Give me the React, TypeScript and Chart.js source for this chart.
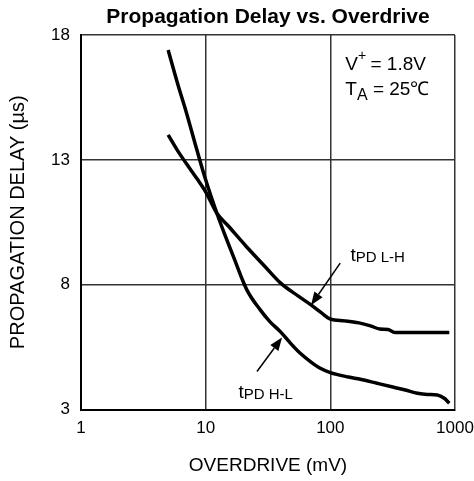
import React, { useEffect, useRef } from "react";
import { Chart, registerables } from "chart.js";

Chart.register(...registerables);

const TITLE = "Propagation Delay vs. Overdrive";
const X_TITLE = "OVERDRIVE (mV)";
const Y_TITLE = "PROPAGATION DELAY (µs)";
const X_TICKS = [1, 10, 100, 1000];
const Y_TICKS = [3, 8, 13, 18];

// tPD L-H
const LH_X = [5, 5.9, 7, 8.5, 10, 12.3, 15, 21, 30, 40, 55, 70, 85, 100, 130, 170, 210, 250, 290, 330, 500, 700, 900];
const LH_Y = [14.0, 13.4, 12.85, 12.25, 11.72, 10.86, 10.38, 9.55, 8.72, 8.06, 7.55, 7.19, 6.87, 6.62, 6.55, 6.47, 6.35, 6.22, 6.2, 6.08, 6.08, 6.08, 6.08];

// tPD H-L
const HL_X = [5, 6, 7, 8.5, 10, 12.3, 14.5, 16.7, 21.4, 27.4, 33, 39.7, 48, 57.4, 70, 83, 100, 140, 174, 237, 323, 400, 500, 600, 720, 820, 900];
const HL_Y = [17.4, 16.0, 14.9, 13.4, 12.2, 10.86, 9.9, 9.12, 7.79, 6.99, 6.5, 6.12, 5.65, 5.25, 4.9, 4.65, 4.48, 4.3, 4.21, 4.05, 3.89, 3.78, 3.65, 3.6, 3.58, 3.45, 3.25];

// annotation anchors in data units: [x, y]
const LH_LABEL = [145, 8.95];
const HL_LABEL = [18.3, 3.45];
const LH_ARROW = [[120, 8.86], [70, 7.18]];
const HL_ARROW = [[25.8, 4.52], [41, 5.88]];
const COND_POS = [132, 16.6];

const FONT = "'Liberation Sans', Arial, Helvetica, sans-serif";

const overlay = {
  id: "overlay",
  afterDraw(chart: any) {
    const { ctx, chartArea, scales } = chart;
    const xs = scales.x;
    const ys = scales.y;
    const px = (v: number) => xs.getPixelForValue(v);
    const py = (v: number) => ys.getPixelForValue(v);
    ctx.save();
    ctx.fillStyle = "#000";
    ctx.strokeStyle = "#000";

    // title
    ctx.font = `bold 21px ${FONT}`;
    ctx.textAlign = "center";
    ctx.textBaseline = "middle";
    ctx.fillText(TITLE, (chartArea.left + chartArea.right) / 2, 17);

    ctx.textAlign = "left";
    ctx.textBaseline = "alphabetic";

    const subLabel = (main: string, sub: string, x: number, y: number) => {
      ctx.font = `19px ${FONT}`;
      ctx.fillText(main, x, y);
      const w = ctx.measureText(main).width;
      ctx.font = `15px ${FONT}`;
      ctx.fillText(sub, x + w, y + 1);
    };

    subLabel("t", "PD L-H", px(LH_LABEL[0]), py(LH_LABEL[1]));
    subLabel("t", "PD H-L", px(HL_LABEL[0]), py(HL_LABEL[1]));

    // conditions
    const cx = px(COND_POS[0]);
    const cy = py(COND_POS[1]);
    ctx.font = `19px ${FONT}`;
    ctx.fillText("V", cx, cy);
    let w = ctx.measureText("V").width;
    ctx.font = `14px ${FONT}`;
    ctx.fillText("+", cx + w, cy - 10);
    const w2 = ctx.measureText("+").width;
    ctx.font = `19px ${FONT}`;
    ctx.fillText(" = 1.8V", cx + w + w2 - 1, cy);
    ctx.fillText("T", cx, cy + 25);
    w = ctx.measureText("T").width;
    ctx.font = `16px ${FONT}`;
    ctx.fillText("A", cx + w, cy + 30);
    const w3 = ctx.measureText("A").width;
    ctx.font = `19px ${FONT}`;
    ctx.fillText(" = 25\u2103", cx + w + w3, cy + 25);

    // arrows
    const arrow = (a: number[][]) => {
      const x1 = px(a[0][0]), y1 = py(a[0][1]);
      const x2 = px(a[1][0]), y2 = py(a[1][1]);
      const ang = Math.atan2(y2 - y1, x2 - x1);
      const hl = 13, hw = 5;
      const bx = x2 - hl * Math.cos(ang), by = y2 - hl * Math.sin(ang);
      ctx.lineWidth = 1.5;
      ctx.beginPath();
      ctx.moveTo(x1, y1);
      ctx.lineTo(bx, by);
      ctx.stroke();
      ctx.beginPath();
      ctx.moveTo(x2, y2);
      ctx.lineTo(bx + hw * Math.sin(ang), by - hw * Math.cos(ang));
      ctx.lineTo(bx - hw * Math.sin(ang), by + hw * Math.cos(ang));
      ctx.closePath();
      ctx.fill();
    };
    arrow(LH_ARROW);
    arrow(HL_ARROW);
    ctx.restore();
  },
};

export default function App() {
  const ref = useRef<HTMLCanvasElement>(null);
  useEffect(() => {
    if (!ref.current) return;
    const chart = new Chart(ref.current, {
      type: "line",
      data: {
        datasets: [
          {
            label: "tPD L-H",
            data: LH_X.map((x, i) => ({ x, y: LH_Y[i] })),
            borderColor: "#000",
            borderWidth: 3.5,
            pointRadius: 0,
            cubicInterpolationMode: "monotone",
            fill: false,
          },
          {
            label: "tPD H-L",
            data: HL_X.map((x, i) => ({ x, y: HL_Y[i] })),
            borderColor: "#000",
            borderWidth: 3.5,
            pointRadius: 0,
            cubicInterpolationMode: "monotone",
            fill: false,
          },
        ],
      },
      options: {
        animation: false,
        responsive: true,
        maintainAspectRatio: false,
        layout: { padding: { top: 35, right: 19, bottom: 0, left: 0 } },
        plugins: { legend: { display: false }, title: { display: false }, tooltip: { enabled: false } },
        scales: {
          x: {
            type: "logarithmic",
            min: 1,
            max: 1000,
            afterBuildTicks: (s: any) => {
              s.ticks = X_TICKS.map((v) => ({ value: v }));
            },
            afterFit: (s: any) => {
              s.height = 71.5;
              s.paddingLeft = 0;
              s.paddingRight = 0;
            },
            ticks: {
              color: "#000",
              font: { family: FONT, size: 17 },
              padding: 9,
              maxRotation: 0,
              autoSkip: false,
              callback: (v: any) => String(v),
            },
            grid: { color: "#333", lineWidth: 1.5, drawTicks: false },
            border: { color: "#000", width: 2 },
            title: {
              display: true,
              text: X_TITLE,
              color: "#000",
              font: { family: FONT, size: 19 },
              padding: { top: 0, bottom: 4 },
            },
          },
          y: {
            type: "linear",
            min: 3,
            max: 18,
            afterBuildTicks: (s: any) => {
              s.ticks = Y_TICKS.map((v) => ({ value: v }));
            },
            afterFit: (s: any) => {
              s.width = 81;
              s.paddingTop = 0;
              s.paddingBottom = 0;
            },
            ticks: {
              color: "#000",
              font: { family: FONT, size: 17 },
              padding: 11,
            },
            grid: { color: "#333", lineWidth: 1.5, drawTicks: false },
            border: { color: "#000", width: 2 },
            title: {
              display: true,
              text: Y_TITLE,
              color: "#000",
              font: { family: FONT, size: 20 },
              padding: { top: 6, bottom: 0 },
            },
          },
        },
      },
      plugins: [overlay],
    });
    return () => chart.destroy();
  }, []);
  return (
    <div style={{ position: "fixed", left: 0, top: 0, width: 474, height: 481, background: "#fff" }}>
      <canvas ref={ref} />
    </div>
  );
}
